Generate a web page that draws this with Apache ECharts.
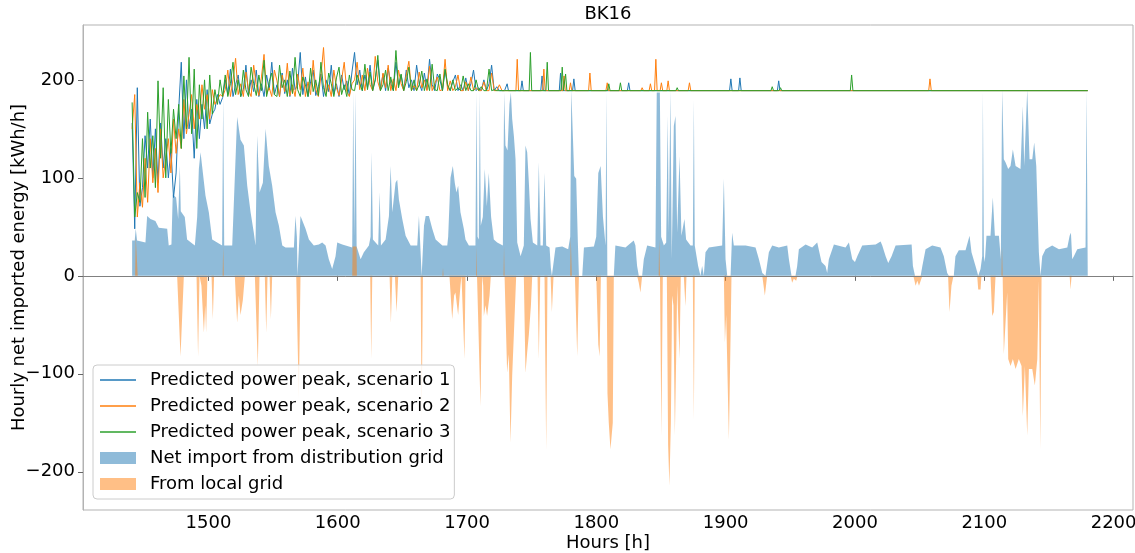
<!DOCTYPE html>
<html>
<head>
<meta charset="utf-8">
<script src="https://cdn.jsdelivr.net/npm/echarts@6/dist/echarts.min.js"></script>
<style>
html,body{margin:0;padding:0;background:#fff;}
#chart{width:1135px;height:553px;}
</style>
</head>
<body>
<div id="chart"></div>
<script>
// ---------- DATA ----------
const titleText = 'BK16';
const xTicks = [1500, 1600, 1700, 1800, 1900, 2000, 2100, 2200];
const yTicks = [-200, -100, 0, 100, 200];

// dense part of the predicted peak lines: hourly grid starting at startHour, every stepHours
const startHour = 1441;
const stepHours = 2;
const scenario1Dense = [
 156,48,192,71,90,143,110,160,100,150,95,156,110,140,100,130,80,105,170,218,140,200,150,170,120,180,140,175,150,190,155,165,170,185,175,182,
 200,185,211,183,195,205,183,190,215,184,200,188,210,183,196,183,205,190,218,185,195,183,207,186,200,183,212,190,195,228,185,203,183,198,210,184,193,206,183,200,188,215,185,196,183,205,190,199,184,208,
 228,195,210,189,205,192,215,189,200,220,190,206,189,212,196,189,218,194,205,189,210,192,200,189,215,196,189,207,190,221,195,189,206,200,189,210,193,189,198,205,189,195,189,202,189,196,210,189,192,189,200,189,196,215,189,193,189,189
];
const scenario2Dense = [
 150,185,60,95,70,120,75,140,95,130,85,150,100,120,140,105,160,125,150,130,180,145,165,185,150,175,160,195,170,185,160,190,175,180,185,183,
 190,210,183,200,222,185,196,183,208,190,183,215,195,184,203,226,185,192,183,210,199,183,205,188,217,184,195,183,206,190,212,183,198,185,220,190,183,204,233,186,195,183,210,192,184,200,218,188,183,196,
 200,218,190,205,189,212,195,189,224,198,189,207,192,215,189,201,189,210,196,189,205,219,189,194,189,208,192,200,189,214,189,196,203,189,190,221,189,199,189,193,205,189,189,198,189,203,189,192,189,189,198,189,189,207,189,189,195,189
];
const scenario3Dense = [
 177,60,85,75,140,80,167,110,143,90,199,120,192,100,180,125,170,140,175,130,204,150,223,145,211,130,195,160,200,150,205,165,190,175,200,183,
 205,183,196,218,185,200,183,210,190,183,213,196,184,205,189,220,183,198,207,185,183,215,192,200,183,209,186,223,190,183,203,195,183,212,188,200,184,218,192,183,207,196,183,202,213,185,195,183,205,190,
 189,205,196,189,216,190,208,189,200,225,189,195,210,189,203,189,230,192,206,189,198,213,189,200,189,195,209,189,201,189,216,190,189,206,189,211,195,189,200,189,192,189,204,189,196,189,189,200,189,193,189,189,211,189,190,189,189,189
];
// sparse part of the lines: [hour, kWh/h]
const scenario1Sparse = [[1729,189],[1730,189],[1731,196],[1732,189],[1741.5,189],[1742.5,199],[1743.5,189],[1757,189],[1758,204],[1759,189],[1771.3,189],[1772.3,207],[1773.3,189],[1781.6,189],[1782.6,201],[1783.6,189],[1824,189],[1825,197],[1826,189],[1903,189],[1904,201],[1905,189],[1910,189],[1911,202],[1912,189],[1940,189],[1941,199],[1942,189],[2180,189]];
const scenario2Sparse = [[1729,189],[1737.8,189],[1738.8,221],[1739.8,189],[1758.4,189],[1759.4,211],[1760.4,189],[1774,189],[1775,204],[1776,189],[1779,189],[1780,197],[1781,189],[1794,189],[1795,207],[1796,189],[1807.4,189],[1808.4,197],[1809.4,189],[1834.4,189],[1835.4,192],[1836.4,189],[1840.8,189],[1841.8,196],[1842.8,189],[1845,189],[1846,221],[1847,189],[1849.3,189],[1850.3,197],[1851.3,189],[1854.5,189],[1855.5,199],[1856.5,189],[1871,189],[1872,197],[1873,189],[2057,189],[2058,201],[2059,189],[2180,189]];
const scenario3Sparse = [[1729,189],[1748,189],[1749,228],[1750,189],[1761,189],[1762,218],[1763,189],[1772.6,189],[1773.6,213],[1774.6,189],[1775.2,189],[1776.2,206],[1777.2,189],[1808.6,189],[1809.6,196],[1810.6,189],[1817.6,189],[1818.6,197],[1819.6,189],[1861.5,189],[1862.5,192],[1863.5,189],[1935,189],[1936,193],[1937,189],[1941.4,189],[1942.4,192],[1943.4,189],[1996.4,189],[1997.4,205],[1998.4,189],[2180,189]];

// net import from distribution grid: [hour, kWh/h]
const netImport = [[1441,36],[1443,36],[1443.8,48],[1444.8,36],[1446.1,34],[1451.3,34],[1452.6,61],[1455.2,58],[1459,56],[1461.6,49],[1468.1,48],[1469.3,31],[1471.4,32],[1472.4,83],[1475,80],[1476.6,58],[1477.9,112],[1478.6,66],[1481.7,60],[1483.5,37],[1489.5,31],[1491.3,60],[1492.6,109],[1493.9,126],[1495.1,112],[1497.7,82],[1500.3,65],[1502.9,37],[1510.6,31],[1511.4,182],[1512.2,31],[1518.4,31],[1520.4,100],[1522.2,162],[1524.8,139],[1527.4,133],[1530,92],[1532.6,65],[1535.1,44],[1536.4,31],[1537.7,143],[1539.5,85],[1542.1,95],[1544.2,150],[1546.7,112],[1549.3,92],[1551.9,65],[1554.5,51],[1557.1,31],
[1559.6,29],[1566.1,29],[1567.3,61],[1568.4,40],[1568.9,0],[1570.4,0],[1571.2,61],[1572.5,63],[1575.1,48],[1577.7,37],[1581.5,31],[1585.4,32],[1588,34],[1590.6,31],[1593.1,17],[1595.7,7],[1598.3,20],[1599.6,34],[1603.5,32],[1611.2,29],[1612,187],[1612.8,40],[1613.8,187],[1614.6,30],[1617.7,17],[1620.2,24],[1624.1,31],[1625.4,40],[1626.2,126],[1627.2,37],[1631.3,31],[1632.4,85],[1633.4,31],[1637,37],[1639.6,61],[1640.9,112],[1642.2,65],[1644.7,95],[1646,98],[1647.3,78],[1649.9,58],[1652.5,41],[1656.4,31],[1661.5,31],[1662.8,61],[1664.1,62],[1664.9,0],[1665.9,0],[1666.7,51],[1668,61],[1670.5,61],[1673.1,48],[1675.7,37],[1680.9,31],[1684.7,31],
[1685.4,40],[1687.2,100],[1689,112],[1690.5,95],[1691.8,85],[1693.1,92],[1694.9,65],[1697.5,48],[1698.8,37],[1701.4,31],[1706.5,31],[1707.3,187],[1708.1,40],[1709.1,37],[1709.9,187],[1710.6,51],[1712.2,60],[1713.7,109],[1715.3,71],[1716.8,105],[1718.6,60],[1720.7,37],[1723.3,34],[1727.7,31],[1728.7,187],[1729.7,133],[1731.3,128],[1732.8,175],[1733.9,187],[1734.9,160],[1736.2,143],[1737.5,119],[1738.8,34],[1741.4,20],[1743.9,31],[1745.2,133],[1746.5,126],[1747.8,95],[1749.1,58],[1750.9,34],[1754.3,31],[1755.5,116],[1756.8,31],[1758.6,31],[1759.9,105],[1761.2,31],[1763.8,29],[1764.8,8],[1765.6,0],[1766.9,0],[1768.4,29],[1773.6,30],[1778.2,27],[1779.8,40],[1780.6,190],[1781.9,190],[1782.9,102],[1784.4,99],[1785.7,34],[1786.5,0],[1789.1,0],[1790.4,29],[1798.1,30],[1799.9,40],[1801.5,105],[1803.3,112],[1805.1,60],[1807.1,31],[1807.8,187],[1808.5,0],
[1813.5,0],[1814.7,31],[1822.5,29],[1828.9,36],[1830.2,31],[1831.5,10],[1832.8,0],[1835.4,0],[1836.7,17],[1839.3,31],[1845.7,29],[1846.7,187],[1849.1,187],[1850.1,40],[1852.2,31],[1854,34],[1855.2,163],[1856,44],[1857.3,189],[1858.3,17],[1859.9,153],[1861.2,163],[1862.5,44],[1864.3,122],[1865.8,41],[1868.1,58],[1869.4,37],[1872.8,31],[1874.6,31],[1875.4,179],[1876.1,31],[1878.7,10],[1880.5,0],[1881.8,10],[1883.1,0],[1884.4,24],[1887,29],[1897.3,31],[1898.6,99],[1899.9,17],[1901.2,0],[1903.8,0],[1905,44],[1906.3,31],[1915.4,31],[1923.1,29],[1925.7,17],[1928.3,3],[1930.8,0],
[1933.4,24],[1936,31],[1941.1,29],[1947.6,31],[1948.9,17],[1950.9,0],[1954,0],[1955.3,10],[1956.6,27],[1961.8,32],[1966.9,29],[1970.8,34],[1972.1,35],[1974.1,14],[1977.2,10],[1978.5,3],[1979.8,17],[1983.7,32],[1992.7,29],[1995.3,34],[1997.9,17],[2000,14],[2001.8,20],[2005.6,31],[2016,32],[2019.8,35],[2021.1,31],[2023.7,20],[2025.7,13],[2028.3,20],[2031.4,31],[2043.8,32],[2044.8,10],[2046.4,0],[2050.8,0],[2052.1,10],[2054.6,27],
[2059.7,31],[2066.1,29],[2067.4,31],[2068.7,20],[2071.3,3],[2072.6,0],[2076.4,0],[2077.7,20],[2080.3,26],[2085.5,26],[2086.8,24],[2088.6,41],[2090.1,24],[2093.2,10],[2095.3,0],[2097.1,7],[2098.4,20],[2098.9,187],[2099.7,20],[2100.4,14],[2101.7,41],[2104.8,41],[2106.6,80],[2108.2,41],[2111.3,41],[2112.8,17],[2113.8,190],[2115.1,119],[2116.4,116],[2118.5,109],[2120.3,112],[2122.1,129],[2124.2,112],[2128,109],[2129.8,173],[2130.9,112],[2133.2,190],[2135,119],[2137.1,119],[2138.6,136],[2140.2,112],[2142.2,24],[2143.5,0],[2144.8,20],[2147.4,27],[2152.5,31],[2157.7,27],[2164.2,29],[2166,41],[2167,44],[2168,17],[2169.3,20],[2171.9,27],[2178.3,29],[2179.1,190],[2180,190]];

// from local grid: [hour, kWh/h]
const localGrid = [[1441,0],[1443.3,0],[1443.8,40],[1444.8,40],[1445.3,0],[1475.8,0],[1478.4,-82],[1481,0],[1490.8,0],[1492,-82],[1493.1,0],[1494.6,-10],[1496.5,-58],[1497.5,-30],[1498.2,-58],[1499.2,0],[1502.4,0],[1503.4,-44],[1504.4,0],[1511,0],[1511.4,30],[1511.9,0],[1520.4,0],[1521.5,-30],[1522.2,-48],[1523.5,-20],[1524.8,-40],[1526.6,-25],[1528.2,0],[1535.9,0],[1538.2,-92],[1539.5,0],[1543.6,0],[1544.7,-58],[1545.7,0],[1547.3,0],[1548.3,-44],[1549.3,0],
[1567.9,0],[1569.9,-126],[1571.2,0],[1611.2,0],[1611.5,30],[1614.5,30],[1614.8,0],[1625.1,0],[1625.9,-85],[1626.7,0],[1640.1,0],[1641.1,-48],[1642.2,0],[1644.2,0],[1645.5,-37],[1646.8,0],[1664.1,0],[1664.9,-150],[1665.9,0],[1681,0],[1681.4,8],[1681.8,0],
[1686.4,0],[1688.5,-44],[1690,-20],[1691,-17],[1693.1,-40],[1694.9,-10],[1695.7,0],[1697.2,0],[1698,-85],[1698.8,0],[1707,0],[1707.3,30],[1707.7,0],[1709.1,0],[1710.4,-133],[1711.7,0],[1712.5,-10],[1713,-41],[1714.3,-30],[1715.5,-41],[1717.4,-20],[1718.4,0],[1728.2,0],[1728.6,30],[1729,0],[1731,-99],[1732.3,-80],[1733.6,-170],[1734.9,-102],[1736.2,-60],[1738,0],[1743.9,0],[1745.2,-99],[1746.5,-78],[1747.8,-60],[1749.4,-30],[1750.4,0],[1754.5,0],[1755.5,-85],[1756.6,0],[1759.9,0],[1761.2,-177],[1762.2,0],[1764.6,0],[1765.6,-37],[1766.9,0],[1779.8,0],[1780.2,40],[1781,0],[1783.4,0],[1785.2,-82],[1786.5,0],[1799.9,0],[1801.5,-70],[1802.5,-82],[1803.5,0],
[1808,0],[1808.6,-120],[1809.6,-150],[1810.9,-177],[1812.7,-150],[1813.5,0],[1831.5,0],[1832.8,-7],[1834.1,-17],[1835.4,0],[1848.2,0],[1848.5,37],[1849,37],[1849.2,0],[1850.3,-163],[1851.4,0],[1854.5,0],[1855.5,-173],[1856.5,-214],[1857.6,-150],[1858.6,-20],[1859.6,-30],[1860.7,-163],[1861.7,-85],[1862.5,-10],[1864.3,-85],[1865.3,0],[1867.6,0],[1868.9,-31],[1869.7,0],[1874.6,0],[1875.4,-146],[1876.1,0],[1898.6,0],[1899.4,-68],[1900.4,-40],[1902.5,-167],[1903.8,-60],[1904.5,0],[1928.3,0],[1930.3,-20],[1932.1,0],
[1950.2,0],[1951.4,-7],[1952.7,-3],[1954.5,-5],[1955.6,0],[2045.1,0],[2046.9,-10],[2048.2,-5],[2049.5,-10],[2052.1,0],[2072,0],[2073.1,-37],[2074.6,-10],[2076.2,0],[2094.5,0],[2095.3,-14],[2097.1,-14],[2097.8,0],[2104.8,0],[2106.1,-41],[2107.4,-37],[2108.7,0],[2113.3,0],[2113.7,30],[2114.2,0],[2115.1,-80],[2116.4,-80],[2117.7,-17],[2118.5,-85],[2120.3,-92],[2122.1,-85],[2124.2,-95],[2126.7,-85],[2128.8,-92],[2129.8,-143],[2131.4,-92],[2133.2,-163],[2134.5,-95],[2137.1,-95],[2139.1,-112],[2141,-85],[2142.2,-5],[2143.3,-177],[2144.3,0],[2166,0],[2166.7,-14],[2167.5,0],[2180,0]];

const seriesNames = [
  'Predicted power peak, scenario 1',
  'Predicted power peak, scenario 2',
  'Predicted power peak, scenario 3',
  'Net import from distribution grid',
  'From local grid'
];

// ---------- BUILD ----------
const FONT = 'DejaVu Sans';
const LINE_ICON = 'path://M0,0 L36,0 L36,1.4 L0,1.4 Z';
function densePairs(values) {
  return values.map((v, i) => [startHour + stepHours * i, v]);
}
function lineSeries(name, color, dense, sparse) {
  return {
    name, type: 'line', data: densePairs(dense).concat(sparse),
    symbol: 'none', showSymbol: false, silent: true,
    lineStyle: { width: 1, color }, itemStyle: { color }
  };
}
function areaSeries(name, color, data, extra) {
  return Object.assign({
    name, type: 'line', data, symbol: 'none', showSymbol: false, silent: true,
    lineStyle: { width: 0, color }, itemStyle: { color },
    areaStyle: { color, opacity: 1 }
  }, extra || {});
}
const minus = v => String(v).replace('-', '\u2212');

const chart = echarts.init(document.getElementById('chart'), null, { renderer: 'canvas' });
chart.setOption({
  animation: false,
  backgroundColor: '#ffffff',
  textStyle: { fontFamily: FONT },
  title: {
    text: titleText, left: 603, top: 0, textAlign: 'center',
    textStyle: { fontFamily: FONT, fontSize: 18, fontWeight: 'normal', color: '#000' }
  },
  grid: { left: 83, right: 2, top: 25, bottom: 43, show: true, borderColor: '#b3b3b3', borderWidth: 1,
          containLabel: false, outerBoundsMode: 'none' },
  legend: {
    orient: 'vertical', left: 93, top: 365,
    padding: [6, 4, 6, 7], itemGap: 8, itemWidth: 36, itemHeight: 12,
    backgroundColor: 'rgba(255,255,255,0.8)', borderColor: '#cccccc', borderWidth: 1, borderRadius: 4,
    textStyle: { fontFamily: FONT, fontSize: 18, lineHeight: 18, color: '#000', padding: [0, 0, 0, 9] },
    data: [
      { name: seriesNames[0], icon: LINE_ICON }, { name: seriesNames[1], icon: LINE_ICON },
      { name: seriesNames[2], icon: LINE_ICON },
      { name: seriesNames[3], icon: 'rect' }, { name: seriesNames[4], icon: 'rect' }
    ]
  },
  xAxis: {
    type: 'value', min: 1403, max: 2215,
    name: 'Hours [h]', nameLocation: 'middle', nameGap: 24, nameMoveOverlap: false,
    nameTextStyle: { fontFamily: FONT, fontSize: 18, color: '#000' },
    axisLine: { show: true, lineStyle: { color: '#b3b3b3' } },
    axisTick: { show: true, length: 5, customValues: xTicks, lineStyle: { color: '#666' } },
    axisLabel: { customValues: xTicks, fontFamily: FONT, fontSize: 18, color: '#000', margin: 4,
                 formatter: v => String(v) },
    splitLine: { show: false }
  },
  yAxis: {
    type: 'value', min: -239, max: 256,
    name: 'Hourly net imported energy [kWh/h]', nameLocation: 'middle', nameGap: 55, nameMoveOverlap: false,
    nameTextStyle: { fontFamily: FONT, fontSize: 18, color: '#000' },
    axisLine: { show: true, lineStyle: { color: '#b3b3b3' } },
    axisTick: { show: true, length: 5, customValues: yTicks, lineStyle: { color: '#666' } },
    axisLabel: { customValues: yTicks, fontFamily: FONT, fontSize: 18, color: '#000', margin: 8, formatter: minus },
    splitLine: { show: false }
  },
  series: [
    lineSeries(seriesNames[0], '#1f77b4', scenario1Dense, scenario1Sparse),
    lineSeries(seriesNames[1], '#ff7f0e', scenario2Dense, scenario2Sparse),
    lineSeries(seriesNames[2], '#2ca02c', scenario3Dense, scenario3Sparse),
    areaSeries(seriesNames[3], 'rgba(31,119,180,0.5)', netImport),
    areaSeries(seriesNames[4], 'rgba(255,127,14,0.5)', localGrid, {
      markLine: {
        silent: true, symbol: 'none', label: { show: false },
        lineStyle: { color: '#808080', type: 'solid', width: 1 },
        data: [{ yAxis: 0 }]
      }
    })
  ]
});
</script>
</body>
</html>
